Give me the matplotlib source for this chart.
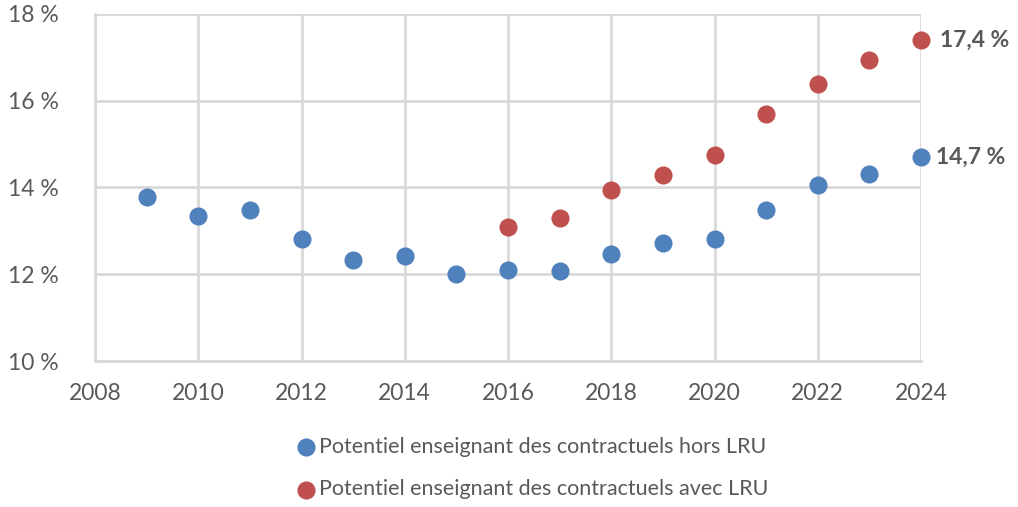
import matplotlib.pyplot as plt
from matplotlib.ticker import FuncFormatter

years_hors = [2009, 2010, 2011, 2012, 2013, 2014, 2015, 2016, 2017, 2018, 2019, 2020, 2021, 2022, 2023, 2024]
hors_lru = [13.77, 13.35, 13.47, 12.82, 12.32, 12.41, 12.0, 12.09, 12.07, 12.46, 12.71, 12.82, 13.47, 14.05, 14.32, 14.7]
years_avec = [2016, 2017, 2018, 2019, 2020, 2021, 2022, 2023, 2024]
avec_lru = [13.08, 13.29, 13.95, 14.28, 14.74, 15.7, 16.39, 16.95, 17.39]

label_hors = "Potentiel enseignant des contractuels hors LRU"
label_avec = "Potentiel enseignant des contractuels avec LRU"

plt.rcParams['font.family'] = ['Lato', 'DejaVu Sans']
txt_color = '#595959'
grid_color = '#d9d9d9'

fig = plt.figure(figsize=(10.18, 5.07), dpi=100)
ax = fig.add_axes([95 / 1018, 1 - 361 / 507, 826 / 1018, 347 / 507])

ax.scatter(years_hors, hors_lru, s=170, color='#4f81bd', label=label_hors, zorder=3,
           linewidths=0, clip_on=False)
ax.scatter(years_avec, avec_lru, s=170, color='#c0504d', label=label_avec, zorder=3,
           linewidths=0, clip_on=False)

ax.text(years_avec[-1] + 0.36, avec_lru[-1], "17,4 %", fontsize=16.5, fontweight='bold',
        color=txt_color, va='center', ha='left')
ax.text(years_hors[-1] + 0.3, hors_lru[-1], "14,7 %", fontsize=16.5, fontweight='bold',
        color=txt_color, va='center', ha='left')

ax.set_xlim(2008, 2024)
ax.set_ylim(10, 18)
ax.set_xticks(range(2008, 2025, 2))
ax.set_yticks(range(10, 19, 2))
ax.yaxis.set_major_formatter(FuncFormatter(lambda v, p: f"{int(v)} %"))

ax.grid(True, color=grid_color, linewidth=2)
ax.set_axisbelow(True)
for side in ['top', 'right']:
    ax.spines[side].set_visible(False)
for side in ['left', 'bottom']:
    ax.spines[side].set_color(grid_color)
    ax.spines[side].set_linewidth(2)
ax.tick_params(length=0, labelsize=16.5, colors=txt_color)
ax.tick_params(axis='x', pad=16)
ax.tick_params(axis='y', pad=26)

fig.legend(loc='center', bbox_to_anchor=(526 / 1018, 1 - 468 / 507), frameon=False,
           fontsize=15.5, labelcolor=txt_color, handletextpad=-0.4, labelspacing=1.05,
           markerscale=1.0)

fig.savefig("out.png", dpi=100)
